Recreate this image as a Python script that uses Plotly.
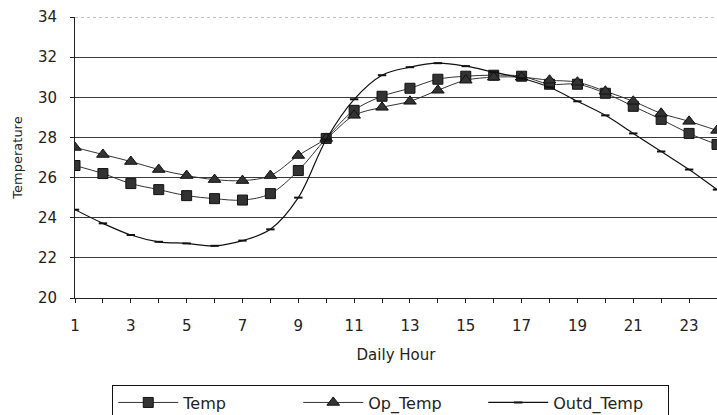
import plotly.graph_objects as go

hours = list(range(1, 25))
temp = [26.6, 26.2, 25.7, 25.4, 25.1, 24.95, 24.88, 25.2, 26.35, 27.95, 29.35, 30.05,
        30.45, 30.9, 31.05, 31.1, 31.05, 30.65, 30.65, 30.2, 29.55, 28.9, 28.2, 27.65]
op_temp = [27.5, 27.15, 26.8, 26.4, 26.1, 25.9, 25.85, 26.1, 27.1, 27.95, 29.1, 29.5,
           29.8, 30.35, 30.85, 31.0, 31.0, 30.85, 30.75, 30.3, 29.8, 29.2, 28.8, 28.35]
outd_temp = [24.4, 23.72, 23.14, 22.8, 22.72, 22.6, 22.86, 23.42, 25.0, 27.9, 29.9, 31.1,
             31.5, 31.7, 31.55, 31.25, 30.95, 30.5, 29.8, 29.1, 28.2, 27.3, 26.4, 25.4]
series_names = ["Temp", "Op_Temp", "Outd_Temp"]
x_tick_labels = [1, 3, 5, 7, 9, 11, 13, 15, 17, 19, 21, 23]
y_tick_labels = [20, 22, 24, 26, 28, 30, 32, 34]

FONT = "DejaVu Sans"

fig = go.Figure()
fig.add_trace(go.Scatter(
    x=hours, y=temp, name=series_names[0], mode="lines+markers",
    line=dict(color="#333333", width=1, shape="spline"),
    marker=dict(symbol="square", size=10, color="#333333", line=dict(color="#111111", width=1)),
))
fig.add_trace(go.Scatter(
    x=hours, y=op_temp, name=series_names[1], mode="lines+markers",
    line=dict(color="#333333", width=1, shape="spline"),
    marker=dict(symbol="triangle-up", size=11, color="#333333", line=dict(color="#111111", width=1)),
))
fig.add_trace(go.Scatter(
    x=hours, y=outd_temp, name=series_names[2], mode="lines+markers",
    line=dict(color="#111111", width=1.2, shape="spline"),
    marker=dict(symbol="line-ew", size=6, color="#111111", line=dict(color="#111111", width=2)),
))

# top boundary gridline (light dotted, as in the reference)
fig.add_shape(type="line", xref="paper", yref="y", x0=0, x1=1,
              y0=y_tick_labels[-1], y1=y_tick_labels[-1],
              line=dict(color="#8a8a8a", width=1, dash="dot"), layer="below")

fig.update_layout(
    width=717, height=415,
    margin=dict(l=75, r=0, t=17, b=117, autoexpand=False),
    paper_bgcolor="white", plot_bgcolor="white",
    font=dict(family=FONT, color="#222222", size=15),
    showlegend=True,
    legend=dict(
        orientation="h", x=0.058, y=-0.308, xanchor="left", yanchor="top",
        bordercolor="#111111", borderwidth=1, bgcolor="white",
        font=dict(family=FONT, size=16, color="#222222"),
        itemwidth=60, entrywidth=110, entrywidthmode="pixels",
    ),
    xaxis=dict(
        range=[1, 24], tickmode="array", tickvals=x_tick_labels,
        ticktext=[str(v) for v in x_tick_labels],
        ticks="outside", ticklen=4, tickcolor="#222222",
        minor=dict(dtick=1, tick0=1, ticks="outside", ticklen=4, tickcolor="#222222", showgrid=False),
        showline=True, linecolor="#222222", linewidth=1,
        showgrid=False, zeroline=False, ticklabelstandoff=10,
        tickfont=dict(family=FONT, size=15, color="#222222"),
        title=dict(text="Daily Hour", font=dict(family=FONT, size=15, color="#222222"), standoff=15),
    ),
    yaxis=dict(
        range=[20, 34], tickmode="array", tickvals=y_tick_labels,
        ticktext=[str(v) for v in y_tick_labels],
        ticks="outside", ticklen=4, tickcolor="#222222",
        showline=True, linecolor="#222222", linewidth=1,
        showgrid=True, gridcolor="#3a3a3a", gridwidth=1, zeroline=False,
        ticklabelstandoff=10,
        tickfont=dict(family=FONT, size=15, color="#222222"),
        title=dict(text="Temperature", font=dict(family=FONT, size=13, color="#222222"), standoff=12),
    ),
)

fig.write_html("out.html")
